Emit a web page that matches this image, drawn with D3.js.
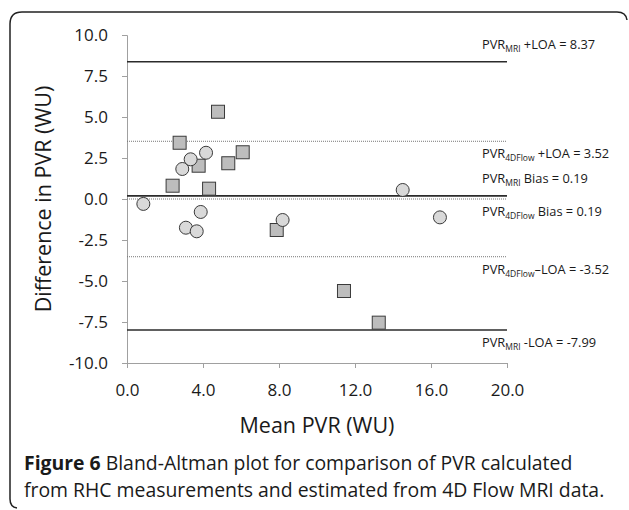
<!DOCTYPE html>
<html>
<head>
<meta charset="utf-8">
<script src="https://cdn.jsdelivr.net/npm/d3@7"></script>
<style>
  body { margin: 0; background: #fff; }
  text { font-family: "Open Sans", sans-serif; fill: #1a1a1a; }
</style>
</head>
<body>
<div id="plot"></div>
<script>
const FRAME_HEIGHT = 510;
const FRAME_WIDTH = 629;
const MARGINS = {left: 127, right: 122, top: 35, bottom: 147};

const VIS_HEIGHT = FRAME_HEIGHT - MARGINS.top - MARGINS.bottom;
const VIS_WIDTH = FRAME_WIDTH - MARGINS.left - MARGINS.right;

// data
// MRI vs RHC (squares)
const SQUARE_X = [2.40, 2.77, 3.77, 4.79, 4.32, 5.33, 6.09, 7.88, 11.42, 13.25];
const SQUARE_Y = [0.81, 3.43, 2.03, 5.32, 0.63, 2.18, 2.85, -1.89, -5.61, -7.54];
// 4D Flow vs RHC (circles)
const CIRCLE_X = [0.86, 2.91, 3.35, 4.16, 3.10, 3.67, 3.88, 8.19, 14.51, 16.47];
const CIRCLE_Y = [-0.30, 1.83, 2.42, 2.82, -1.75, -1.97, -0.79, -1.28, 0.55, -1.12];

// reference lines
const LINE_VALUES = [8.37, 3.52, 0.19, 0.0, -3.52, -7.99];
const LINE_KIND = ["MRI", "4DFlow", "MRI", "4DFlow", "4DFlow", "MRI"];
const LINE_TEXT = [" +LOA = 8.37", " +LOA = 3.52", " Bias = 0.19", " Bias = 0.19", "\u2013LOA = -3.52", " -LOA = -7.99"];
const LINE_LABEL_SIDE = ["above", "below", "above", "below", "below", "below"];

const X_TICKS = [0, 4, 8, 12, 16, 20];
const Y_TICKS = [-10, -7.5, -5, -2.5, 0, 2.5, 5, 7.5, 10];

const FRAME = d3.select("#plot")
                  .append("svg")
                    .attr("height", FRAME_HEIGHT)
                    .attr("width", FRAME_WIDTH);

// panel border (bracket-like with rounded corners)
FRAME.append("path")
    .attr("d", "M17,508 Q10,507 10,499 L10,24 Q10,12 22,12 L617,12 Q626,12 627,20")
    .attr("fill", "none")
    .attr("stroke", "#222")
    .attr("stroke-width", 1.5);

const X_SCALE = d3.scaleLinear().domain([0, 20]).range([0, VIS_WIDTH]);
const Y_SCALE = d3.scaleLinear().domain([-10, 10]).range([VIS_HEIGHT, 0]);

const fmt = (d) => d.toFixed(1);

// axes
const xAxis = FRAME.append("g")
    .attr("transform", "translate(" + MARGINS.left + "," + (VIS_HEIGHT + MARGINS.top) + ")")
    .call(d3.axisBottom(X_SCALE).tickValues(X_TICKS).tickFormat(fmt).tickSizeOuter(0).tickSize(5).tickPadding(16));

const yAxis = FRAME.append("g")
    .attr("transform", "translate(" + MARGINS.left + "," + MARGINS.top + ")")
    .call(d3.axisLeft(Y_SCALE).tickValues(Y_TICKS).tickFormat(fmt).tickSizeOuter(0).tickSize(5).tickPadding(14));

[xAxis, yAxis].forEach((ax) => {
    ax.select(".domain").attr("stroke", "#a0a0a0").attr("stroke-width", 1);
    ax.selectAll(".tick line").attr("stroke", "#a0a0a0");
    ax.selectAll(".tick text")
        .attr("font-family", "Open Sans, sans-serif")
        .attr("font-size", "17px")
        .attr("fill", "#1a1a1a");
});

const PLOT = FRAME.append("g")
    .attr("transform", "translate(" + MARGINS.left + "," + MARGINS.top + ")");

// reference lines
PLOT.selectAll(".refline")
    .data(LINE_VALUES)
    .enter()
    .append("line")
      .attr("x1", 0)
      .attr("x2", X_SCALE(20))
      .attr("y1", (d) => Y_SCALE(d))
      .attr("y2", (d) => Y_SCALE(d))
      .attr("stroke", (d, i) => LINE_KIND[i] === "MRI" ? "#2b2b2b" : "#777")
      .attr("stroke-width", (d, i) => LINE_KIND[i] === "MRI" ? 1.6 : 1)
      .attr("stroke-dasharray", (d, i) => LINE_KIND[i] === "MRI" ? null : "1,1");

// line labels
const labels = PLOT.selectAll(".reflabel")
    .data(LINE_VALUES)
    .enter()
    .append("text")
      .attr("x", X_SCALE(20) - 25)
      .attr("y", (d, i) => Y_SCALE(d) + (LINE_LABEL_SIDE[i] === "above" ? -13 : 17))
      .attr("font-size", "12.8px");

labels.append("tspan").text("PVR");
labels.append("tspan")
    .attr("dy", 3)
    .attr("font-size", "8.5px")
    .text((d, i) => LINE_KIND[i]);
labels.append("tspan")
    .attr("dy", -3)
    .text((d, i) => LINE_TEXT[i]);

// squares
const SQ = 13;
PLOT.selectAll(".sq")
    .data(SQUARE_X)
    .enter()
    .append("rect")
      .attr("x", (d) => X_SCALE(d) - SQ / 2)
      .attr("y", (d, i) => Y_SCALE(SQUARE_Y[i]) - SQ / 2)
      .attr("width", SQ)
      .attr("height", SQ)
      .attr("fill", "#bdbdbd")
      .attr("stroke", "#3a3a3a")
      .attr("stroke-width", 1);

// circles
PLOT.selectAll(".ci")
    .data(CIRCLE_X)
    .enter()
    .append("circle")
      .attr("cx", (d) => X_SCALE(d))
      .attr("cy", (d, i) => Y_SCALE(CIRCLE_Y[i]))
      .attr("r", 6.5)
      .attr("fill", "#d9d9d9")
      .attr("stroke", "#3a3a3a")
      .attr("stroke-width", 1);

// axis titles
FRAME.append("text")
    .attr("x", MARGINS.left + VIS_WIDTH / 2)
    .attr("y", 433)
    .attr("text-anchor", "middle")
    .attr("font-size", "21.5px")
    .text("Mean PVR (WU)");

FRAME.append("text")
    .attr("transform", "translate(51," + (MARGINS.top + VIS_HEIGHT / 2) + ") rotate(-90)")
    .attr("text-anchor", "middle")
    .attr("font-size", "21.5px")
    .text("Difference in PVR (WU)");

// caption
const cap1 = FRAME.append("text")
    .attr("x", 24)
    .attr("y", 470)
    .attr("font-size", "19.4px");
cap1.append("tspan").attr("font-weight", "bold").text("Figure 6");
cap1.append("tspan").text(" Bland-Altman plot for comparison of PVR calculated");

FRAME.append("text")
    .attr("x", 24)
    .attr("y", 497)
    .attr("font-size", "19.4px")
    .text("from RHC measurements and estimated from 4D Flow MRI data.");
</script>
</body>
</html>
